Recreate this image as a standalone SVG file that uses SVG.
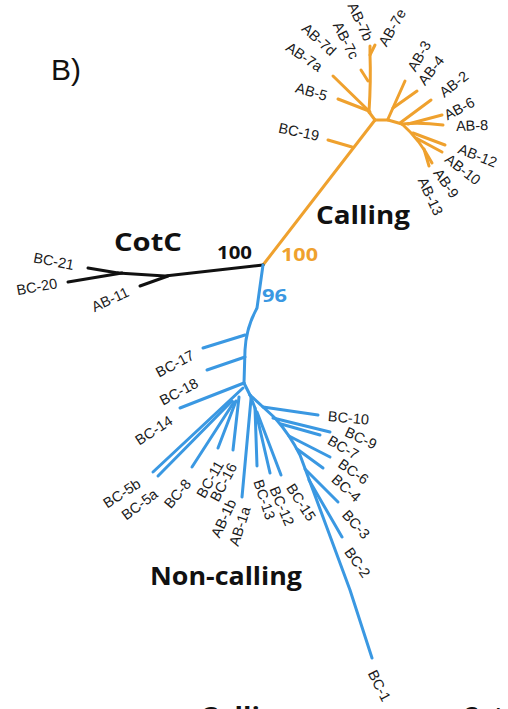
<svg xmlns="http://www.w3.org/2000/svg" width="508" height="709" viewBox="0 0 508 709">
<style>
.br{fill:none;stroke-width:3;stroke-linecap:round;stroke-linejoin:round}
.o{stroke:#EFA12E}.b{stroke:#3A98E2}.k{stroke:#111}
.lb{font-family:"Liberation Sans",Arial,sans-serif;font-size:14.5px;fill:#1a1a1a}
.hd{font-family:"Open Sans","Noto Sans",sans-serif;font-weight:700;fill:#111}
.bs{font-family:"Open Sans","Noto Sans",sans-serif;font-weight:700}
</style>
<rect width="508" height="709" fill="#fff"/>
<text x="51" y="80" font-family="Liberation Sans,Arial,sans-serif" font-size="30" fill="#111">B)</text>

<g id="connectors">
 <!-- orange: Calling -->
 <g class="br o">
  <path d="M263,265 L375,120"/>
  <path d="M352,147 L328,140"/>
  <path d="M375,120 L369,112"/>
  <path d="M369,111 L338,99"/>
  <path d="M370,112 L333,76"/>
  <path d="M369,112 Q371,80 370,55 L370,46"/>
  <path d="M370,55 L375,45"/>
  <path d="M368,81 L361,70"/>
  <path d="M375,120 L388,120"/>
  <path d="M388,119 L405,81"/>
  <path d="M393,108 L417,91"/>
  <path d="M388,120 L402,124"/>
  <path d="M400,123 L431,100"/>
  <path d="M402,124 Q420,122 443,125"/>
  <path d="M408,124 L442,115"/>
  <path d="M402,124 Q420,140 432,163"/>
  <path d="M413,133 L445,145"/>
  <path d="M416,138 L442,152"/>
  <path d="M424,149 L429,166"/>
 </g>
 <!-- black: CotC -->
 <g class="br k">
  <path d="M263,265 L165,276 L118,273"/>
  <path d="M168,276 L140,286"/>
  <path d="M118,273 L88,268"/>
  <path d="M122,273 L68,282"/>
 </g>
 <!-- blue: Non-calling -->
 <g class="br b">
  <path d="M263,265 L257,308 Q246,328 245,350 L244,383"/>
  <path d="M245,335 L203,348"/>
  <path d="M245,357 L207,370"/>
  <path d="M244,383 L180,408"/>
  <path d="M243,388 L153,472"/>
  <path d="M232,401 L158,476"/>
  <path d="M234,402 L192,467"/>
  <path d="M236,401 L218,448"/>
  <path d="M239,397 L233,450"/>
  <path d="M244,383 L250,395"/>
  <path d="M251,399 L242,497"/>
  <path d="M250,395 L255,408 L257,466"/>
  <path d="M255,408 L270,473"/>
  <path d="M257,412 L281,475"/>
  <path d="M250,395 L275,418 Q290,435 300,455 L350,590 L372,658"/>
  <path d="M263,407 L318,415"/>
  <path d="M273,418 L330,432"/>
  <path d="M281,424 L320,435"/>
  <path d="M289,436 L330,457"/>
  <path d="M297,449 L323,468"/>
  <path d="M305,469 L338,502"/>
  <path d="M309,480 L342,537"/>
 </g>
</g>

<g id="clade-labels">
 <text class="hd" x="316" y="224" font-size="25" textLength="94" lengthAdjust="spacingAndGlyphs">Calling</text>
 <text class="hd" x="114" y="251" font-size="25" textLength="68" lengthAdjust="spacingAndGlyphs">CotC</text>
 <text class="hd" x="150" y="585" font-size="25" textLength="152" lengthAdjust="spacingAndGlyphs">Non-calling</text>
 <text class="bs" x="217" y="259" font-size="18" fill="#111" textLength="35" lengthAdjust="spacingAndGlyphs">100</text>
 <text class="bs" x="281" y="261" font-size="18" fill="#EFA12E" textLength="37" lengthAdjust="spacingAndGlyphs">100</text>
 <text class="bs" x="262" y="302" font-size="18" fill="#3A98E2" textLength="25" lengthAdjust="spacingAndGlyphs">96</text>
 <text class="hd" x="200" y="725" font-size="25" textLength="94" lengthAdjust="spacingAndGlyphs">Calling</text>
 <text class="hd" x="462" y="725" font-size="25">CotC</text>
</g>

<g id="tips" class="lb">
 <g id="BC-19"><text transform="translate(319,136) rotate(12)" text-anchor="end" dy="0.35em">BC-19</text></g>
 <g id="AB-5"><text transform="translate(327,96) rotate(16)" text-anchor="end" dy="0.35em">AB-5</text></g>
 <g id="AB-7a"><text transform="translate(321,68) rotate(34)" text-anchor="end" dy="0.35em">AB-7a</text></g>
 <g id="AB-7d"><text transform="translate(334,53) rotate(42)" text-anchor="end" dy="0.35em">AB-7d</text></g>
 <g id="AB-7c"><text transform="translate(355,58) rotate(63)" text-anchor="end" dy="0.35em">AB-7c</text></g>
 <g id="AB-7b"><text transform="translate(369,40) rotate(65)" text-anchor="end" dy="0.35em">AB-7b</text></g>
 <g id="AB-7e"><text transform="translate(382,45) rotate(-60)" dy="0.35em">AB-7e</text></g>
 <g id="AB-3"><text transform="translate(411,70) rotate(-60)" dy="0.35em">AB-3</text></g>
 <g id="AB-4"><text transform="translate(421,83) rotate(-52)" dy="0.35em">AB-4</text></g>
 <g id="AB-2"><text transform="translate(441,94) rotate(-38)" dy="0.35em">AB-2</text></g>
 <g id="AB-6"><text transform="translate(445,116) rotate(-28)" dy="0.35em">AB-6</text></g>
 <g id="AB-8"><text transform="translate(456,126) rotate(-2)" dy="0.35em">AB-8</text></g>
 <g id="AB-12"><text transform="translate(459,148) rotate(22)" dy="0.35em">AB-12</text></g>
 <g id="AB-10"><text transform="translate(447,157) rotate(38)" dy="0.35em">AB-10</text></g>
 <g id="AB-9"><text transform="translate(437,170) rotate(55)" dy="0.35em">AB-9</text></g>
 <g id="AB-13"><text transform="translate(422,178) rotate(65)" dy="0.35em">AB-13</text></g>

 <g id="BC-21"><text transform="translate(74,265) rotate(11)" text-anchor="end" dy="0.35em">BC-21</text></g>
 <g id="BC-20"><text transform="translate(57,283) rotate(-10)" text-anchor="end" dy="0.35em">BC-20</text></g>
 <g id="AB-11"><text transform="translate(128,291) rotate(-25)" text-anchor="end" dy="0.35em">AB-11</text></g>

 <g id="BC-17"><text transform="translate(193,354) rotate(-28)" text-anchor="end" dy="0.35em">BC-17</text></g>
 <g id="BC-18"><text transform="translate(197,382) rotate(-28)" text-anchor="end" dy="0.35em">BC-18</text></g>
 <g id="BC-14"><text transform="translate(171,419) rotate(-33)" text-anchor="end" dy="0.35em">BC-14</text></g>
 <g id="BC-5b"><text transform="translate(139,482) rotate(-33)" text-anchor="end" dy="0.35em">BC-5b</text></g>
 <g id="BC-5a"><text transform="translate(156,492) rotate(-37)" text-anchor="end" dy="0.35em">BC-5a</text></g>
 <g id="BC-8"><text transform="translate(188,481) rotate(-50)" text-anchor="end" dy="0.35em">BC-8</text></g>
 <g id="BC-11"><text transform="translate(220,462) rotate(-60)" text-anchor="end" dy="0.35em">BC-11</text></g>
 <g id="BC-16"><text transform="translate(233,464) rotate(-62)" text-anchor="end" dy="0.35em">BC-16</text></g>
 <g id="AB-1b"><text transform="translate(232,500) rotate(-65)" text-anchor="end" dy="0.35em">AB-1b</text></g>
 <g id="AB-1a"><text transform="translate(246,507) rotate(-72)" text-anchor="end" dy="0.35em">AB-1a</text></g>
 <g id="BC-13"><text transform="translate(258,480) rotate(72)" dy="0.35em">BC-13</text></g>
 <g id="BC-12"><text transform="translate(274,487) rotate(67)" dy="0.35em">BC-12</text></g>
 <g id="BC-15"><text transform="translate(290,485) rotate(57)" dy="0.35em">BC-15</text></g>
 <g id="BC-10"><text transform="translate(328,416) rotate(5)" dy="0.35em">BC-10</text></g>
 <g id="BC-9"><text transform="translate(346,431) rotate(25)" dy="0.35em">BC-9</text></g>
 <g id="BC-7"><text transform="translate(329,439) rotate(30)" dy="0.35em">BC-7</text></g>
 <g id="BC-6"><text transform="translate(340,462) rotate(35)" dy="0.35em">BC-6</text></g>
 <g id="BC-4"><text transform="translate(334,477) rotate(42)" dy="0.35em">BC-4</text></g>
 <g id="BC-3"><text transform="translate(345,512) rotate(48)" dy="0.35em">BC-3</text></g>
 <g id="BC-2"><text transform="translate(348,549) rotate(55)" dy="0.35em">BC-2</text></g>
 <g id="BC-1"><text transform="translate(372,671) rotate(63)" dy="0.35em">BC-1</text></g>
</g>
</svg>
